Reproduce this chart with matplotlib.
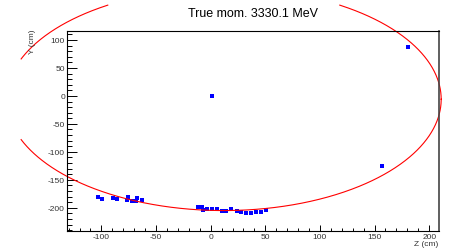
import matplotlib
matplotlib.use("Agg")
import numpy as np
import matplotlib.pyplot as plt
from matplotlib.ticker import MultipleLocator

plt.rcParams['font.family'] = ['Liberation Sans', 'DejaVu Sans']
plt.rcParams['axes.unicode_minus'] = False

# Hits (Z, Y) in cm
hit_z = [-103.4, -99.5, -89.7, -85.5, -76.6, -75.7, -72.3, -68.3, -67.4, -62.6,
         -11.6, -7.7, -7.0, -3.1, 0.9, 5.5, 10.1, 14.3, 18.8, 23.8, 28.0, 32.6,
         36.9, 41.4, 46.3, 50.6, 1.0, 180.2, 157.0]
hit_y = [-181.2, -184.3, -181.8, -184.8, -186.0, -180.7, -188.4, -188.4, -183.0, -186.6,
         -198.6, -199.1, -203.2, -201.4, -201.4, -202.7, -205.0, -205.0, -201.4, -205.0,
         -208.0, -209.3, -209.3, -208.0, -208.0, -204.5, 0.0, 87.7, -125.2]

# Fitted track circle
track_center_z = 12.0
track_center_y = -6.0
track_radius = 199.0

title = "True mom. 3330.1 MeV"
xlabel = "Z (cm)"
ylabel = "Y (cm)"

W, H = 454, 251
fig = plt.figure(figsize=(W / 100, H / 100), dpi=100)
ax = fig.add_axes([67 / W, (H - 231.7) / H, (439 - 67) / W, (231.7 - 31.7) / H])
ax.set_xlim(-131.5, 209)
ax.set_ylim(-241, 116.6)

ax.plot(hit_z, hit_y, ls='none', marker='s', ms=2.6, color='#0000ff', mec='#0000ff', mew=0)

# circle drawn as a polyline, clipped to the drawable pad region
theta = np.linspace(0, 2 * np.pi, 1441)
cz = track_center_z + track_radius * np.cos(theta)
cy = track_center_y + track_radius * np.sin(theta)
fig.canvas.draw()
pix = ax.transData.transform(np.column_stack([cz, cy]))
px = pix[:, 0]
py_top = H - pix[:, 1]
mask = (px < 21) | (py_top < 6)
cz_m = np.where(mask, np.nan, cz)
cy_m = np.where(mask, np.nan, cy)
ax.plot(cz_m, cy_m, color='#ff0000', lw=0.8, clip_on=False)

for s in ax.spines.values():
    s.set_linewidth(0.8)
ax.spines['right'].set_color('#444444')
ax.spines['right'].set_linewidth(1.2)

ax.xaxis.set_major_locator(MultipleLocator(50))
ax.xaxis.set_minor_locator(MultipleLocator(10))
ax.yaxis.set_major_locator(MultipleLocator(50))
ax.yaxis.set_minor_locator(MultipleLocator(10))
ax.tick_params(axis='both', which='both', direction='in', top=False, right=False,
               labelsize=6, labelcolor='#333333', width=0.7)
ax.tick_params(axis='x', which='major', length=4.5, pad=1.5)
ax.tick_params(axis='x', which='minor', length=2.3)
ax.tick_params(axis='y', which='major', length=7.5, pad=1.5)
ax.tick_params(axis='y', which='minor', length=3.7)

fig.text(253 / W, 1 - 14 / H, title, ha='center', va='center', fontsize=9)
fig.text(438 / W, 1 - 244.5 / H, xlabel, ha='right', va='center', fontsize=6, color='#333333')
fig.text(32 / W, 1 - 42 / H, ylabel, ha='center', va='center', rotation=90, fontsize=6,
         color='#333333')

fig.savefig("out.png", dpi=100)
